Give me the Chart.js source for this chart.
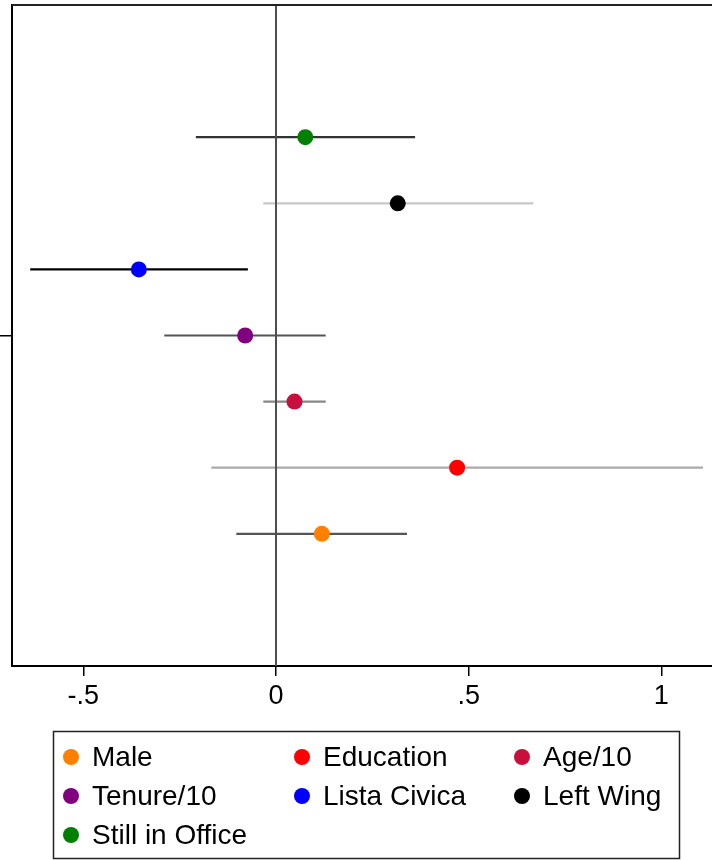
<!DOCTYPE html>
<html>
<head>
<meta charset="utf-8">
<script src="https://cdn.jsdelivr.net/npm/chart.js@4"></script>
<style>
  html, body { margin: 0; padding: 0; background: #fff; }
  #wrap { width: 712px; height: 860px; }
</style>
</head>
<body>
<div id="wrap"><canvas id="c" width="712" height="860"></canvas></div>
<script>
// ---- data ----
const labels = ["Male", "Education", "Age/10", "Tenure/10", "Lista Civica", "Left Wing", "Still in Office"];
const positions = [1, 2, 3, 4, 5, 6, 7];
const estimates = [0.119, 0.470, 0.048, -0.080, -0.356, 0.316, 0.076];
const ciLow = [-0.103, -0.168, -0.033, -0.290, -0.638, -0.033, -0.208];
const ciHigh = [0.340, 1.108, 0.129, 0.129, -0.073, 0.668, 0.361];
const xTicks = [-0.5, 0, 0.5, 1];
const xTickLabels = ["-.5", "0", ".5", "1"];
const yTicks = [4];

// ---- styles ----
const pointColors = ["#ff7f00", "#ff0000", "#c8103c", "#800080", "#0000ff", "#000000", "#008000"];
const ciColors = ["#555555", "#aaaaaa", "#888888", "#555555", "#000000", "#c8c8c8", "#333333"];
const FONT = '"Liberation Sans", Arial, Helvetica, sans-serif';

const datasets = [];
// points (on top)
labels.forEach((lab, i) => {
  datasets.push({
    type: 'scatter',
    label: lab,
    data: [{ x: estimates[i], y: positions[i] }],
    backgroundColor: pointColors[i],
    borderWidth: 0,
    pointRadius: 8,
    pointHoverRadius: 8,
    order: 0,
    isPoint: true
  });
});
// zero reference line
datasets.push({
  type: 'line',
  label: '_zero',
  data: [{ x: 0, y: -1 }, { x: 0, y: 9 }],
  borderColor: '#4f4f4f',
  borderWidth: 2,
  pointRadius: 0,
  fill: false,
  order: 1
});
// confidence intervals
labels.forEach((lab, i) => {
  datasets.push({
    type: 'line',
    label: '_ci_' + lab,
    data: [{ x: ciLow[i], y: positions[i] }, { x: ciHigh[i], y: positions[i] }],
    borderColor: ciColors[i],
    borderWidth: 2.2,
    pointRadius: 0,
    fill: false,
    order: 2
  });
});

const frameAndLegend = {
  id: 'frameAndLegend',
  afterDraw(chart) {
    const ctx = chart.ctx;
    const a = chart.chartArea;
    ctx.save();
    // top frame line
    ctx.strokeStyle = '#222';
    ctx.lineWidth = 2;
    ctx.beginPath();
    ctx.moveTo(a.left, a.top);
    ctx.lineTo(chart.width, a.top);
    ctx.stroke();

    // legend box
    const bx = 53.5, by = 731.5, bw = 626, bh = 127;
    ctx.strokeStyle = '#222';
    ctx.lineWidth = 1.5;
    ctx.strokeRect(bx, by, bw, bh);
    const colMarker = [71, 302, 522];
    const colText = [92, 323, 543];
    const rowY = [757, 796, 835];
    const pts = chart.data.datasets.filter(d => d.isPoint);
    ctx.font = '28px ' + FONT;
    ctx.textBaseline = 'middle';
    ctx.textAlign = 'left';
    pts.forEach((d, k) => {
      const r = Math.floor(k / 3), c = k % 3;
      ctx.fillStyle = d.backgroundColor;
      ctx.beginPath();
      ctx.arc(colMarker[c], rowY[r], 8, 0, Math.PI * 2);
      ctx.fill();
      ctx.fillStyle = '#000';
      ctx.fillText(d.label, colText[c], rowY[r] + 1);
    });
    ctx.restore();
  }
};

new Chart(document.getElementById('c'), {
  data: { datasets },
  options: {
    responsive: false,
    animation: false,
    events: [],
    layout: { autoPadding: false, padding: { left: 0, right: 0, top: 5, bottom: 134 } },
    plugins: { legend: { display: false }, tooltip: { enabled: false } },
    scales: {
      x: {
        type: 'linear',
        position: 'bottom',
        min: -0.6852,
        max: 1.1316,
        afterBuildTicks: s => { s.ticks = xTicks.map(v => ({ value: v })); },
        afterFit: s => { s.height = 60; },
        grid: { drawOnChartArea: false, drawTicks: true, tickLength: 10, color: '#000', lineWidth: 1.5 },
        border: { display: true, color: '#000', width: 2 },
        ticks: {
          padding: 4,
          color: '#000',
          font: { family: FONT, size: 27 },
          maxRotation: 0,
          callback: (v) => { const i = xTicks.indexOf(v); return i >= 0 ? xTickLabels[i] : ''; }
        }
      },
      y: {
        type: 'linear',
        position: 'left',
        min: -1,
        max: 9,
        afterBuildTicks: s => { s.ticks = yTicks.map(v => ({ value: v })); },
        afterFit: s => { s.width = 12; },
        grid: { drawOnChartArea: false, drawTicks: true, tickLength: 12, color: '#000', lineWidth: 1.5 },
        border: { display: true, color: '#000', width: 2 },
        ticks: { display: false }
      }
    }
  },
  plugins: [frameAndLegend]
});
</script>
</body>
</html>
